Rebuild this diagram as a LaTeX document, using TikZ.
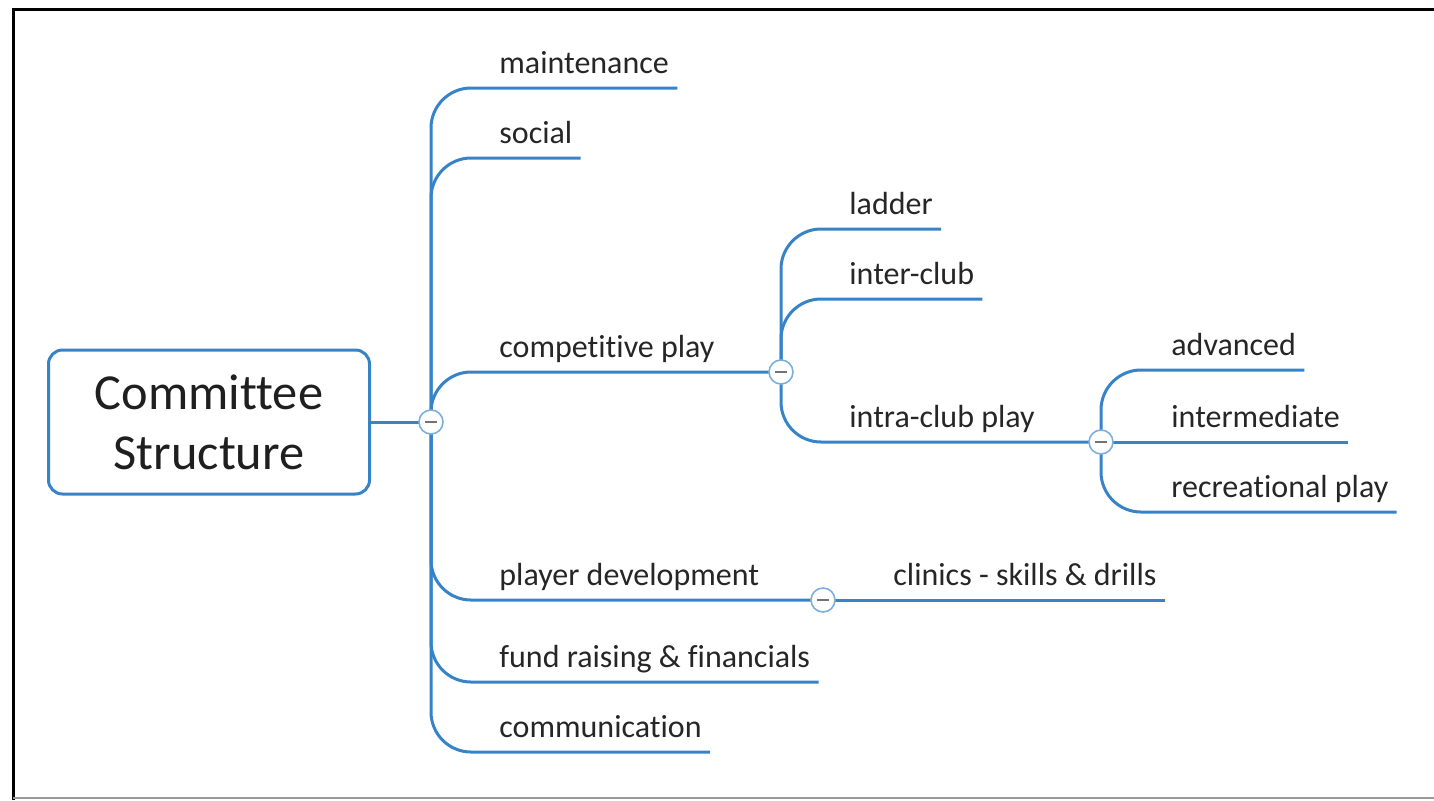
\documentclass[tikz,border=0pt]{standalone}
\usepackage{fontspec}
\setmainfont{Carlito}[Ligatures=NoCommon]
\definecolor{branchblue}{RGB}{55,131,199}
\definecolor{toggleblue}{RGB}{125,175,222}

\begin{document}
\begin{tikzpicture}[x=0.5pt,y=-0.5pt,
    root/.style={draw=branchblue,line width=1.5pt,rounded corners=7pt,
        minimum width=160.5pt,minimum height=72pt,align=center,
        font=\fontsize{25.2}{30}\selectfont,text=black!88},
    topic/.style={anchor=south west,inner xsep=4pt,inner ysep=7.2pt,text depth=0pt,
        font=\fontsize{16}{19}\selectfont,text=black!85},
    branch/.style={draw=branchblue,line width=1.5pt,rounded corners=20pt},
    toggle/.style={circle,draw=toggleblue,fill=white,line width=0.8pt,
        minimum size=12pt,inner sep=0pt,
        path picture={\draw[black!55,line width=1.4pt]
            ([xshift=-3pt]path picture bounding box.center) -- ++(6pt,0);}}]
    \useasboundingbox (0,0) rectangle (1434,800);
    % frame of the screenshot
    \draw[line width=1.5pt] (1434,9) -- (13,9) -- (13,800);
    \draw[black!40,line width=1pt] (13,798) -- (1434,798);

    % central topic
    \node[root] (root) at (209,422) {Committee\\Structure};

    % junctions (toggles drawn on top at the end)
    \coordinate (j0) at (431,422);
    \coordinate (j1) at (781,372);
    \coordinate (j2) at (1101,442);
    \coordinate (j3) at (823,600);

    % first level
    \node[topic] (maint) at (491,88) {maintenance};
    \node[topic] (social) at (491,158) {social};
    \node[topic] (comp) at (491,372) {competitive play};
    \node[topic] (dev) at (491,600) {player development};
    \node[topic] (fund) at (491,682) {fund raising \& financials};
    \node[topic] (comm) at (491,752) {communication};

    % second level
    \node[topic] (ladder) at (841,229) {ladder};
    \node[topic] (inter) at (841,299) {inter-club};
    \node[topic] (intra) at (841,442) {intra-club play};
    \node[topic] (clinics) at (885,600) {clinics - skills \& drills};

    % third level
    \node[topic] (adv) at (1163,370) {advanced};
    \node[topic] (mid) at (1163,442) {intermediate};
    \node[topic] (rec) at (1163,512) {recreational play};

    \draw[branch] (root.east) -- (j0);
    \draw[branch] (j0) |- (maint.south east);
    \draw[branch] (j0) |- (social.south east);
    \draw[branch] (j0) |- (j1);   % under competitive play
    \draw[branch] (j0) |- (j3);   % under player development
    \draw[branch] (j0) |- (fund.south east);
    \draw[branch] (j0) |- (comm.south east);

    \draw[branch] (j1) |- (ladder.south east);
    \draw[branch] (j1) |- (inter.south east);
    \draw[branch] (j1) |- (j2);   % under intra-club play

    \draw[branch] (j2) |- (adv.south east);
    \draw[branch] (j2) -- (mid.south east);
    \draw[branch] (j2) |- (rec.south east);

    \draw[branch] (j3) -- (clinics.south east);

    \foreach \j in {j0,j1,j2,j3}
        \node[toggle] at (\j) {};
\end{tikzpicture}
\end{document}
